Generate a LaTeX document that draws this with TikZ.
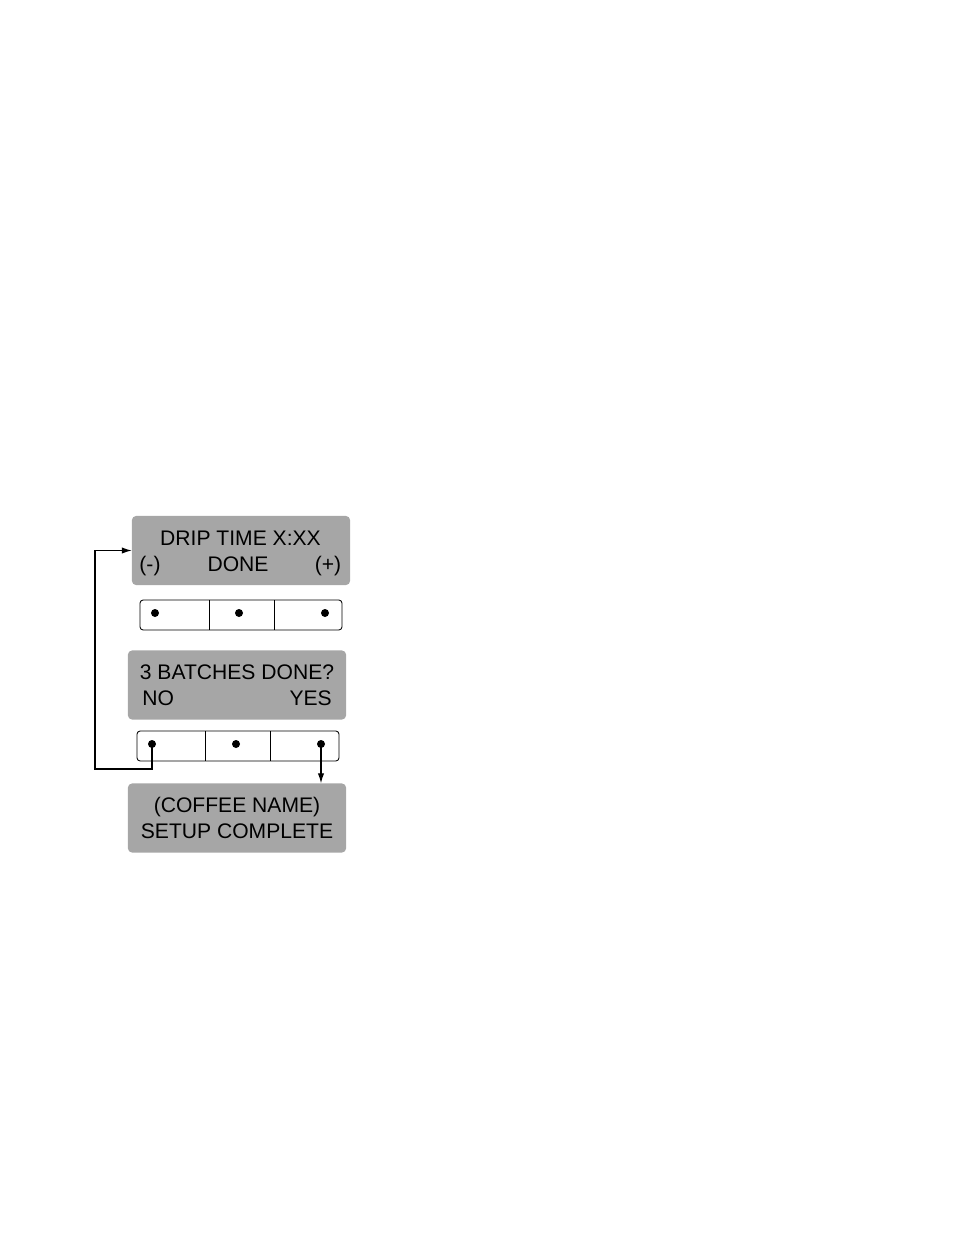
\documentclass[tikz,border=0pt]{standalone}
\usepackage{fontspec}
\setmainfont{Liberation Sans}
\usetikzlibrary{arrows.meta}
\definecolor{screengray}{RGB}{166,166,166}
\begin{document}
\begin{tikzpicture}[x=0.025cm,y=-0.025cm,
    screen/.style={rectangle, fill=screengray, rounded corners=0.1cm,
      minimum width=5.45cm, minimum height=1.725cm, inner sep=0},
    keypad/.style={rectangle, draw=black, rounded corners=0.08cm,
      minimum width=5.05cm, minimum height=0.75cm, inner sep=0, line width=0.6pt},
    txt/.style={anchor=base, inner sep=0, font=\fontsize{15}{18}\selectfont},
    key/.style={circle, fill=black, inner sep=0, minimum size=0.2cm},
    >={Latex[length=7pt,width=4.5pt]}]
  \useasboundingbox (0,0) rectangle (954,1235);

  % screens
  \node[screen] (drip) at (241,550.5) {};
  \node[screen] (batch) at (237,685) {};
  \node[screen] (done) at (237,818) {};

  \node[txt] (dripA) at (240.5,545) {DRIP TIME X:XX};
  \node[txt] (minus) at (150,571) {(-)};
  \node[txt] (doneB) at (238,571) {DONE};
  \node[txt] (plus) at (328,571) {(+)};

  \node[txt] (batchA) at (237,679) {3 BATCHES DONE?};
  \node[txt, anchor=base west] (no) at (142,705) {NO};
  \node[txt, anchor=base east] (yes) at (332,705) {YES};

  \node[txt] (doneA) at (237,812) {(COFFEE NAME)};
  \node[txt] (doneC) at (237,838) {SETUP COMPLETE};

  % keypads
  \node[keypad] (padA) at (241,615) {};
  \node[keypad] (padB) at (238,746) {};
  \foreach \x in {209,274} \draw[line width=0.6pt] (\x,600) -- (\x,630);
  \foreach \x in {205,270} \draw[line width=0.6pt] (\x,731) -- (\x,761);

  \foreach \x\y in {155/a,239/b,325/c} {
    \node[key] (keyA\y) at (\x,613) {};
  }
  \foreach \x\y in {152/a,236/b,321/c} {
    \node[key] (keyB\y) at (\x,744) {};
  }

  % connectors
  \coordinate (back) at (95,769);
  \draw[->, line width=0.8pt] (keyBa.center) |- (back) |- (drip.west);
  \draw[->, line width=0.8pt] (keyBc.center) -- (keyBc.center |- done.north);
\end{tikzpicture}
\end{document}
